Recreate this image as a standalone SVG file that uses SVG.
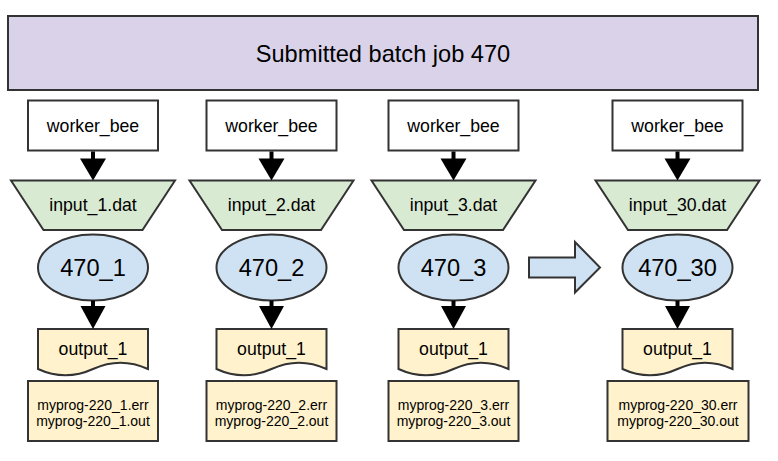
<svg xmlns="http://www.w3.org/2000/svg" width="778" height="461" viewBox="0 0 778 461">
<style>
  .s { stroke: #333333; stroke-width: 2; }
  .title { fill: #d9d2e9; }
  .worker { fill: #ffffff; }
  .input { fill: #d9ead3; }
  .job { fill: #cfe2f3; }
  .out { fill: #fff2cc; }
  text { font-family: "Liberation Sans", Arial, sans-serif; fill: #000000; text-anchor: middle; }
  .t24 { font-size: 23.6px; }
  .t18 { font-size: 17.7px; }
  .t14 { font-size: 14px; }
  .shaft { stroke: #000000; stroke-width: 4; fill: none; }
  .head { fill: #000000; }
</style>
<rect width="778" height="461" fill="#ffffff"/>

<g id="title">
  <rect class="s title" x="8" y="16" width="750" height="74"/>
  <text class="t24" x="383" y="61.5">Submitted batch job 470</text>
</g>

<g id="col1">
  <g id="worker1"><rect class="s worker" x="28" y="100.5" width="130" height="50"/><text class="t18" x="93" y="131.5">worker_bee</text></g>
  <g id="input1"><polygon class="s input" points="11,180.5 175,180.5 142.5,230 43.5,230"/><text class="t18" x="93" y="211">input_1.dat</text></g>
  <g id="job1"><ellipse class="s job" cx="93" cy="267.5" rx="55" ry="33"/><text class="t24" x="93" y="275.5">470_1</text></g>
  <g id="output1"><path class="s out" d="M38,329 h110 v40 Q120.5,356.3 93,369 Q65.5,381.6 38,369 Z"/><text class="t18" x="93" y="355">output_1</text></g>
  <g id="files1"><rect class="s out" x="28" y="381" width="130" height="60"/><text class="t14" x="93" y="410">myprog-220_1.err</text><text class="t14" x="93" y="426">myprog-220_1.out</text></g>
</g>

<g id="col2">
  <g id="worker2"><rect class="s worker" x="206.5" y="100.5" width="130" height="50"/><text class="t18" x="271.5" y="131.5">worker_bee</text></g>
  <g id="input2"><polygon class="s input" points="189.5,180.5 353.5,180.5 321,230 222,230"/><text class="t18" x="271.5" y="211">input_2.dat</text></g>
  <g id="job2"><ellipse class="s job" cx="271.5" cy="267.5" rx="55" ry="33"/><text class="t24" x="271.5" y="275.5">470_2</text></g>
  <g id="output2"><path class="s out" d="M216.5,329 h110 v40 Q299,356.3 271.5,369 Q244,381.6 216.5,369 Z"/><text class="t18" x="271.5" y="355">output_1</text></g>
  <g id="files2"><rect class="s out" x="206.5" y="381" width="130" height="60"/><text class="t14" x="271.5" y="410">myprog-220_2.err</text><text class="t14" x="271.5" y="426">myprog-220_2.out</text></g>
</g>

<g id="col3">
  <g id="worker3"><rect class="s worker" x="388.5" y="100.5" width="130" height="50"/><text class="t18" x="453.5" y="131.5">worker_bee</text></g>
  <g id="input3"><polygon class="s input" points="371.5,180.5 535.5,180.5 503,230 404,230"/><text class="t18" x="453.5" y="211">input_3.dat</text></g>
  <g id="job3"><ellipse class="s job" cx="453.5" cy="267.5" rx="55" ry="33"/><text class="t24" x="453.5" y="275.5">470_3</text></g>
  <g id="output3"><path class="s out" d="M398.5,329 h110 v40 Q481,356.3 453.5,369 Q426,381.6 398.5,369 Z"/><text class="t18" x="453.5" y="355">output_1</text></g>
  <g id="files3"><rect class="s out" x="388.5" y="381" width="130" height="60"/><text class="t14" x="453.5" y="410">myprog-220_3.err</text><text class="t14" x="453.5" y="426">myprog-220_3.out</text></g>
</g>

<g id="skip-arrow">
  <polygon class="s job" points="529,257.5 575,257.5 575,242 600,267.5 575,292.5 575,277.5 529,277.5"/>
</g>

<g id="col4">
  <g id="worker4"><rect class="s worker" x="612.5" y="100.5" width="130" height="50"/><text class="t18" x="677.5" y="131.5">worker_bee</text></g>
  <g id="input4"><polygon class="s input" points="595.5,180.5 759.5,180.5 727,230 628,230"/><text class="t18" x="677.5" y="211">input_30.dat</text></g>
  <g id="job4"><ellipse class="s job" cx="677.5" cy="267.5" rx="55" ry="33"/><text class="t24" x="677.5" y="275.5">470_30</text></g>
  <g id="output4"><path class="s out" d="M622.5,329 h110 v40 Q705,356.3 677.5,369 Q650,381.6 622.5,369 Z"/><text class="t18" x="677.5" y="355">output_1</text></g>
  <g id="files4"><rect class="s out" x="607.5" y="381" width="141" height="60"/><text class="t14" x="678" y="410">myprog-220_30.err</text><text class="t14" x="678" y="426">myprog-220_30.out</text></g>
</g>

<g id="connectors">
  <line class="shaft" x1="93" y1="151.5" x2="93" y2="160"/><polygon class="head" points="80,158.5 106,158.5 93,180.5"/>
  <line class="shaft" x1="271.5" y1="151.5" x2="271.5" y2="160"/><polygon class="head" points="258.5,158.5 284.5,158.5 271.5,180.5"/>
  <line class="shaft" x1="453.5" y1="151.5" x2="453.5" y2="160"/><polygon class="head" points="440.5,158.5 466.5,158.5 453.5,180.5"/>
  <line class="shaft" x1="677.5" y1="151.5" x2="677.5" y2="160"/><polygon class="head" points="664.5,158.5 690.5,158.5 677.5,180.5"/>
  <line class="shaft" x1="93" y1="300.5" x2="93" y2="308"/><polygon class="head" points="80.5,306 105.5,306 93,329"/>
  <line class="shaft" x1="271.5" y1="300.5" x2="271.5" y2="308"/><polygon class="head" points="259,306 284,306 271.5,329"/>
  <line class="shaft" x1="453.5" y1="300.5" x2="453.5" y2="308"/><polygon class="head" points="441,306 466,306 453.5,329"/>
  <line class="shaft" x1="677.5" y1="300.5" x2="677.5" y2="308"/><polygon class="head" points="665,306 690,306 677.5,329"/>
</g>
</svg>
